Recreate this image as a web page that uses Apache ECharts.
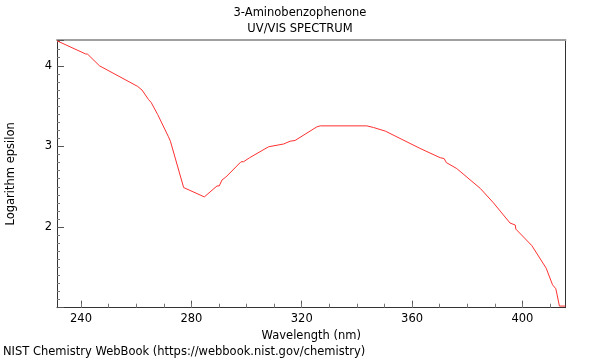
<!DOCTYPE html>
<html>
<head>
<meta charset="utf-8">
<script src="https://cdn.jsdelivr.net/npm/echarts@6/dist/echarts.min.js"></script>
<style>html,body{margin:0;padding:0;background:#fff}#c{width:600px;height:360px}</style>
</head>
<body>
<div id="c"></div>
<script>
const wavelengths = [231.3,241.6,242.4,246.7,260.5,262.1,262.7,264.5,265.4,267.8,271.7,272.4,277.2,284.7,289.3,290.1,291.1,292.5,298.0,298.9,301.1,308.0,313.4,315.8,317.6,325.5,326.7,343.6,346.0,350.3,362.9,370.2,371.6,372.4,376.2,384.7,389.5,395.5,397.4,397.6,403.4,408.6,410.9,412.1,413.4,415.6];
const logEpsilon = [4.31,4.148,4.144,4.0,3.745,3.70,3.69,3.58,3.547,3.395,3.12,3.065,2.49,2.374,2.51,2.51,2.584,2.62,2.81,2.81,2.86,2.996,3.03,3.065,3.074,3.243,3.255,3.255,3.235,3.19,2.975,2.86,2.85,2.80,2.725,2.48,2.30,2.05,2.025,1.975,1.77,1.49,1.284,1.235,1.02,1.02];
const xMajorTicks = [240,280,320,360,400];
const xMinorTicks = [240,250,260,270,280,290,300,310,320,330,340,350,360,370,380,390,400,410];
const yTickLabels = [2,3,4];

const font = 'DejaVu Sans';
const fs = 11.5;
const chart = echarts.init(document.getElementById('c'), null, {renderer:'canvas'});
const xMin = 231.3, xMax = 415.6;
chart.setOption({
  animation:false,
  title:{
    text:'3-Aminobenzophenone\nUV/VIS SPECTRUM',
    left:'center', top:0,
    textStyle:{fontFamily:font,fontSize:fs,fontWeight:'normal',color:'#000',lineHeight:16}
  },
  graphic:[{
    type:'text', left:3, top:346,
    style:{text:'NIST Chemistry WebBook (https://webbook.nist.gov/chemistry)',font:fs+'px "DejaVu Sans"',fill:'#000'}
  }],
  grid:{left:57,right:34.5,top:40,bottom:52.3,containLabel:false,outerBoundsMode:'none'},
  xAxis:[{
    type:'value', position:'bottom', min:xMin, max:xMax,
    name:'Wavelength (nm)', nameLocation:'middle', nameGap:18,
    nameTextStyle:{fontFamily:font,fontSize:fs,color:'#000'},
    axisLine:{show:true,onZero:false,lineStyle:{color:'#333',width:1}},
    axisTick:{show:true,inside:true,length:7,customValues:xMajorTicks,lineStyle:{color:'#555'}},
    axisLabel:{customValues:xMajorTicks,fontFamily:font,fontSize:fs,color:'#000',margin:5},
    splitLine:{show:false}
  },{
    type:'value', position:'top', min:xMin, max:xMax,
    axisLine:{show:true,onZero:false,lineStyle:{color:'#a0a0a0',width:2}},
    axisTick:{show:false}, axisLabel:{show:false}, splitLine:{show:false}
  },{
    type:'value', position:'bottom', offset:0, min:xMin, max:xMax,
    axisLine:{show:false},
    axisTick:{show:true,inside:true,length:4,customValues:xMinorTicks,lineStyle:{color:'#777'}},
    axisLabel:{show:false}, splitLine:{show:false}
  }],
  yAxis:[{
    type:'value', position:'left', min:1, max:4.32, interval:1,
    name:'Logarithm epsilon', nameLocation:'middle', nameGap:40, nameRotate:90,
    nameTextStyle:{fontFamily:font,fontSize:fs,color:'#000'},
    axisLine:{show:true,onZero:false,lineStyle:{color:'#333',width:1}},
    axisTick:{show:true,inside:true,length:7,lineStyle:{color:'#555'}},
    minorTick:{show:true,splitNumber:10,length:3,lineStyle:{color:'#777'}},
    axisLabel:{fontFamily:font,fontSize:fs,color:'#000',margin:5,
      formatter:v=>yTickLabels.indexOf(Math.round(v))>=0 && Math.abs(v-Math.round(v))<1e-6 ? String(Math.round(v)) : ''},
    splitLine:{show:false}
  },{
    type:'value', position:'right', min:1, max:4.32,
    axisLine:{show:true,onZero:false,lineStyle:{color:'#333',width:1}},
    axisTick:{show:false}, axisLabel:{show:false}, splitLine:{show:false}
  }],
  series:[{
    type:'line', xAxisIndex:0, yAxisIndex:0,
    data:wavelengths.map((w,i)=>[w,logEpsilon[i]]),
    showSymbol:false, symbol:'none',
    lineStyle:{color:'#ff3030',width:1},
    clip:true
  }]
});
</script>
</body>
</html>
